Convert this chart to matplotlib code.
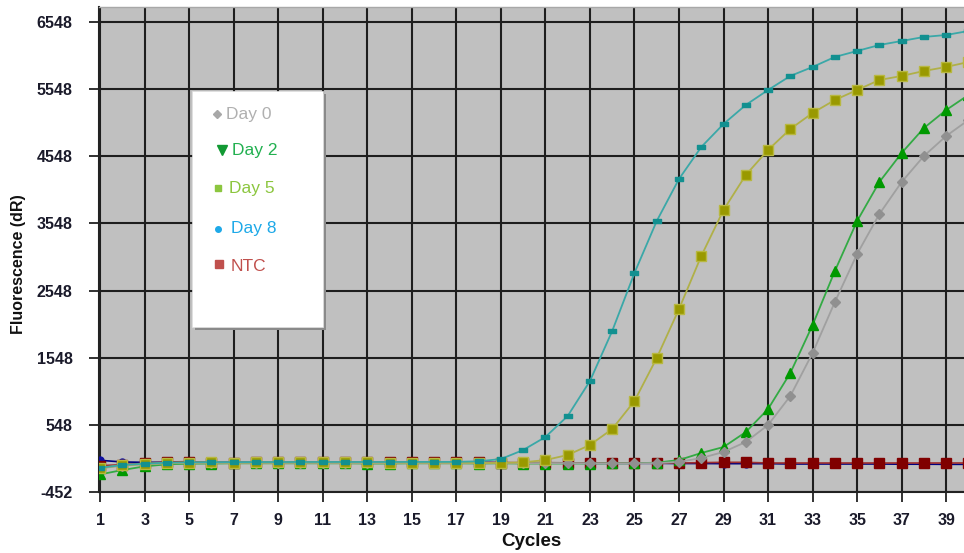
import matplotlib
matplotlib.use("Agg")
import matplotlib.pyplot as plt
from matplotlib.patches import Rectangle
from matplotlib.lines import Line2D

cycles = list(range(1, 41))

day0 = [-100, -60, -40, -25, -20, -18, -20, -18, -20, -18, -20, -20, -22, -20, -20, -22,
        -22, -22, -20, -22, -22, -22, -25, -25, -25, -22, -5, 54, 144, 293, 546, 978,
        1618, 2378, 3093, 3688, 4165, 4552, 4850, 5088]
day2 = [-190, -125, -70, -40, -30, -28, -25, -25, -25, -25, -25, -25, -28, -28, -25, -25,
        -25, -28, -25, -28, -28, -28, -28, -25, -25, -15, 24, 129, 218, 441, 784, 1320,
        2035, 2839, 3584, 4165, 4597, 4969, 5237, 5461]
day5 = [-95, -55, -35, -20, -15, -12, -15, -12, -12, -12, -12, -12, -12, -15, -15, -15,
        -15, -20, -20, -10, 24, 99, 248, 486, 903, 1544, 2273, 3063, 3748, 4269, 4642,
        4954, 5193, 5386, 5535, 5684, 5744, 5818, 5878, 5952]
day8 = [-90, -50, -30, -15, -10, -8, -8, -6, -6, -5, -5, -5, -5, -5, -4, -4,
        -3, 5, 39, 173, 367, 680, 1201, 1946, 2810, 3584, 4210, 4686, 5029, 5312, 5535,
        5744, 5878, 6027, 6116, 6205, 6265, 6325, 6354, 6414]
ntc = [-60, -45, -25, -5, 0, -15, -15, -10, -10, -5, -5, -8, -10, -8, -8, -10,
       -10, -12, -15, -15, -15, -18, -20, -20, -20, -20, -20, -15, -10, -10, -20, -20,
       -20, -20, -20, -20, -20, -20, -20, -20]
navy = [20, -5, -10, -10, -10, -10, -10, -12, -12, -12, -12, -12, -12, -15, -15, -15,
        -15, -10, -15, -20, -20, -20, -25, -25, -25, -25, -28, -28, -30, -30, -30, -35,
        -35, -35, -35, -35, -38, -38, -40, -40]

yticks = [6548, 5548, 4548, 3548, 2548, 1548, 548, -452]
xticks = list(range(1, 41, 2))

legend_labels = ["Day 0", "Day 2", "Day 5", "Day 8", "NTC"]

fig = plt.figure(figsize=(9.64, 5.53), dpi=100)
W, H = 964, 553
ax = fig.add_axes([99 / W, 1 - 492 / H, (964 - 99) / W, (492 - 7) / H])
ax.set_facecolor("#c0c0c0")

ax.set_xlim(0.95, 39.8)
ax.set_ylim(-452, 6771)

ax.set_xticks(xticks)
ax.set_yticks(yticks)
ax.grid(True, color="#1e1e1e", linewidth=1.5, zorder=1)
ax.set_axisbelow(True)

tick_font = dict(family="Liberation Sans", weight="bold", size=11.5)
ax.set_xticklabels([str(v) for v in xticks], fontdict=tick_font, color="#1a1a2a")
ax.set_yticklabels([str(v) for v in yticks], fontdict=tick_font, color="#1a1a2a")
ax.tick_params(axis="x", length=7, width=1.3, pad=8, color="#222222")
ax.tick_params(axis="y", length=7, width=1.3, pad=12, color="#222222")

ax.spines["right"].set_visible(False)
ax.spines["top"].set_color("#a8a8a8")
ax.spines["top"].set_linewidth(1.0)
ax.spines["left"].set_color("#222222")
ax.spines["left"].set_linewidth(1.5)
ax.spines["bottom"].set_color("#222222")
ax.spines["bottom"].set_linewidth(1.5)

ax.set_xlabel("Cycles", family="Liberation Sans", weight="bold", size=13.5, color="#111111", labelpad=4)
ax.set_ylabel("Fluorescence (dR)", family="Liberation Sans", weight="bold", size=11.5, color="#111111")
ax.yaxis.set_label_coords(-73 / 865, (492 - 264) / 485)

dash = [(-1, -0.42), (1, -0.42), (1, 0.42), (-1, 0.42), (-1, -0.42)]

ax.plot(cycles, navy, color="#000080", lw=1.2, marker="o", ms=5, mfc="#1010a0", mec="#1010a0", zorder=3)
ax.plot(cycles, ntc, color="#a03030", lw=1.2, marker="s", ms=6.5, mfc="#800000", mec="#800000", zorder=4)
ax.plot(cycles, day2, color="#33aa44", lw=1.3, marker="^", ms=7, mfc="#009900", mec="#009900", zorder=5)
ax.plot(cycles, day0, color="#a0a0a0", lw=1.3, marker="D", ms=5, mfc="#909090", mec="#909090", zorder=6)
ax.plot(cycles, day5, color="#b0b048", lw=1.3, marker="s", ms=6.5, mfc="#999900", mec="#b8b840", zorder=7)
ax.plot(cycles, day8, color="#3aa8a8", lw=1.3, marker=dash, ms=5.5, mfc="#129090", mec="#129090", zorder=8)

# legend box (white with thin shadow)
def fx(px):
    return px / W

def fy(py):
    return 1 - py / H

shadow = Rectangle((fx(195), fy(330)), fx(323) - fx(192), fy(91) - fy(327),
                   transform=fig.transFigure, facecolor="#8a8a8a", edgecolor="none", zorder=10)
box = Rectangle((fx(192), fy(327)), fx(323) - fx(192), fy(91) - fy(327),
                transform=fig.transFigure, facecolor="white", edgecolor="#e0e0e0", lw=0.5, zorder=11)
fig.patches.extend([shadow, box])

leg_markers = ["D", "v", "s", "o", "s"]
leg_marker_colors = ["#a8a8a8", "#119933", "#8cc63f", "#1ea9e8", "#c0504d"]
leg_text_colors = ["#b0b0b0", "#22b050", "#8cc63f", "#1ea9e8", "#c0504d"]
leg_marker_x = [217, 222, 218, 218, 219]
leg_text_x = [226, 232, 229, 231, 231]
leg_y = [114, 150, 188, 229, 267]
leg_ms = [4.5, 7.5, 5, 4, 6]
for lab, mk, mc, tc, mx, tx, yy, ms in zip(legend_labels, leg_markers, leg_marker_colors,
                                          leg_text_colors, leg_marker_x, leg_text_x, leg_y, leg_ms):
    y_m = yy - 3 if lab == "NTC" else yy
    fig.lines.append(Line2D([fx(mx)], [fy(y_m)], transform=fig.transFigure, marker=mk,
                            ms=ms, mfc=mc, mec=mc, ls="none", zorder=12))
    fig.text(fx(tx), fy(yy), lab, color=tc, family="Liberation Sans", size=12.5,
             ha="left", va="center", zorder=12)

fig.savefig("out.png", dpi=100, facecolor="white")
